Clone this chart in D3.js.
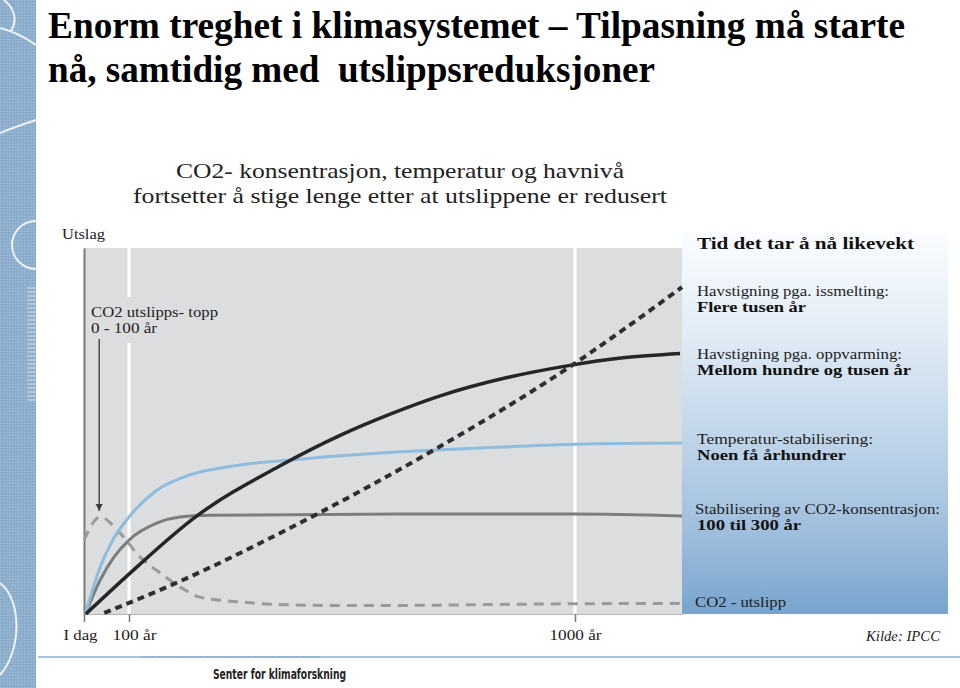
<!DOCTYPE html>
<html><head><meta charset="utf-8">
<script src="https://cdn.jsdelivr.net/npm/d3@7"></script>
<style>body{margin:0;background:#fff}svg{display:block}</style>
</head><body>
<svg id="c" width="960" height="688"></svg>
<script>
// ---- data ----
const xTickValues = [0, 100, 1000];
const xTickLabels = ["I dag", "100 år", "1000 år"];
const xDomainEnd = 1216;

const emissionYears  = [0, 36, 80, 122, 163, 203, 243, 324, 425, 566, 1000, 1216];
const emissionValues = [20.2, 26.5, 22.1, 15.6, 11.2, 7.4, 4.6, 3.3, 2.5, 2.3, 2.8, 2.9];

const co2Years  = [3, 36, 67, 100, 157, 203, 263, 647, 1000, 1216];
const co2Values = [0, 9.3, 15.6, 20.2, 24.9, 26.5, 27.0, 27.3, 27.3, 26.8];

const tempYears  = [3, 36, 64, 100, 157, 223, 324, 445, 647, 849, 1000, 1216];
const tempValues = [0, 12.8, 20.2, 26.5, 33.9, 38.0, 40.7, 42.3, 44.3, 45.6, 46.4, 46.7];

const thermalYears  = [4, 100, 237, 405, 526, 627, 728, 863, 984, 1097, 1212];
const thermalValues = [0, 10.9, 26.8, 40.5, 48.8, 54.6, 59.6, 64.6, 67.8, 70.0, 71.2];

const iceYears  = [45, 177, 475, 697, 980, 1216];
const iceValues = [0.3, 7.4, 27.0, 43.4, 66.7, 89.3];

const titleLines = ["Enorm treghet i klimasystemet – Tilpasning må starte", "nå, samtidig med  utslippsreduksjoner"];
const subtitleLines = ["CO2- konsentrasjon, temperatur og havnivå", "fortsetter å stige lenge etter at utslippene er redusert"];
const panelTitle = "Tid det tar å nå likevekt";
const panelLabels = ["Havstigning pga. issmelting:", "Havstigning pga. oppvarming:", "Temperatur-stabilisering:", "Stabilisering av CO2-konsentrasjon:", "CO2 - utslipp"];
const panelValues = ["Flere tusen år", "Mellom hundre og tusen år", "Noen få århundrer", "100 til 300 år", ""];
const annotationLines = ["CO2 utslipps- topp", "0 - 100 år"];
const yAxisLabel = "Utslag";
const sourceText = "Kilde: IPCC";
const footerText = "Senter for klimaforskning";

// ---- drawing ----
const svg = d3.select("#c");
const serif = "'Liberation Serif', 'Times New Roman', serif";
const tnr = "'Liberation Serif', 'Times New Roman', serif";

const x = d3.scaleLinear().domain([0, 100, 1000, xDomainEnd]).range([84, 129, 575, 682]);
const y = d3.scaleLinear().domain([0, 100]).range([614, 248]);

function txt(g, px, py, s, o) {
  const t = g.append("text").attr("x", px).attr("y", py).text(s)
    .attr("font-family", o.family || serif)
    .attr("font-size", o.size || 14)
    .attr("font-weight", o.weight || "normal")
    .attr("font-style", o.style || "normal")
    .attr("fill", o.fill || "#222")
    .style("white-space", "pre");
  if (o.len) t.attr("textLength", o.len).attr("lengthAdjust", "spacingAndGlyphs");
  if (o.anchor) t.attr("text-anchor", o.anchor);
  return t;
}

// left decorative bar
const defs = svg.append("defs");
const pat = defs.append("pattern").attr("id", "tex").attr("width", 3).attr("height", 3).attr("patternUnits", "userSpaceOnUse");
pat.append("rect").attr("width", 3).attr("height", 3).attr("fill", "#8eafcd");
pat.append("rect").attr("width", 1).attr("height", 1).attr("fill", "#a3bfd8");
pat.append("rect").attr("x", 2).attr("y", 1).attr("width", 1).attr("height", 1).attr("fill", "#7fa2c3");
svg.append("rect").attr("x", 0).attr("y", 0).attr("width", 36).attr("height", 688).attr("fill", "url(#tex)");
const deco = svg.append("g").attr("fill", "none").attr("stroke", "#fff").attr("stroke-width", 2).attr("opacity", 0.85);
deco.append("path").attr("d", "M4,0 C14,8 18,20 11,31");
deco.append("path").attr("d", "M0,28 C12,31 26,38 36,45");
deco.append("path").attr("d", "M0,133 C12,128 24,124 36,120");
deco.append("path").attr("d", "M36,221 A24,24 0 0 0 36,269");
deco.append("path").attr("d", "M0,583 C22,600 22,650 0,675");
for (let yy = 288; yy <= 400; yy += 4) {
  svg.append("line").attr("x1", 27).attr("x2", 36).attr("y1", yy).attr("y2", yy)
    .attr("stroke", "#fff").attr("stroke-width", 1).attr("opacity", 0.6);
}

// title
txt(svg, 48, 38, titleLines[0], {family: tnr, size: 38, weight: "bold", fill: "#000", len: 857});
txt(svg, 48, 82, titleLines[1], {family: tnr, size: 38, weight: "bold", fill: "#000", len: 607});

// subtitle
txt(svg, 176, 178, subtitleLines[0], {size: 22, len: 448});
txt(svg, 133, 203, subtitleLines[1], {size: 22, len: 534});

// right panel gradient
const grad = defs.append("linearGradient").attr("id", "pg").attr("x1", 0).attr("y1", 0).attr("x2", 0).attr("y2", 1);
grad.append("stop").attr("offset", 0).attr("stop-color", "#fbfdff");
grad.append("stop").attr("offset", 0.25).attr("stop-color", "#e3edf6");
grad.append("stop").attr("offset", 0.55).attr("stop-color", "#bed4e9");
grad.append("stop").attr("offset", 0.8).attr("stop-color", "#9dbddc");
grad.append("stop").attr("offset", 1).attr("stop-color", "#77a4cd");
svg.append("rect").attr("x", x(xDomainEnd)).attr("y", 232).attr("width", 948 - x(xDomainEnd)).attr("height", y(0) - 232).attr("fill", "url(#pg)");

// plot background
svg.append("rect").attr("x", x(0)).attr("y", y(100)).attr("width", x(xDomainEnd) - x(0)).attr("height", y(0) - y(100)).attr("fill", "#dcdddf");

// white reference lines
svg.append("line").attr("x1", x(100)).attr("x2", x(100)).attr("y1", y(100)).attr("y2", 297).attr("stroke", "#fff").attr("stroke-width", 3);
svg.append("line").attr("x1", x(100)).attr("x2", x(100)).attr("y1", 343).attr("y2", y(0)).attr("stroke", "#fff").attr("stroke-width", 3);
svg.append("line").attr("x1", x(1000)).attr("x2", x(1000)).attr("y1", y(100)).attr("y2", y(0)).attr("stroke", "#fff").attr("stroke-width", 3);

// axes
const xAxis = svg.append("g").attr("transform", `translate(0,${y(0)})`)
  .call(d3.axisBottom(x).tickValues(xTickValues).tickFormat((d, i) => xTickLabels[i]).tickSize(8).tickSizeOuter(0));
xAxis.select(".domain").attr("stroke", "#b4b4b4").attr("stroke-width", 1);
xAxis.selectAll(".tick line").attr("stroke", "#777").attr("stroke-width", 1.5);
xAxis.selectAll(".tick text").attr("font-family", serif).attr("font-size", 14.5).attr("fill", "#222")
  .attr("y", 16).attr("dx", (d, i) => [-4, 5, 0][i])
  .attr("textLength", (d, i) => [34, 44, 52][i]).attr("lengthAdjust", "spacingAndGlyphs");

const yAxis = svg.append("g").attr("transform", `translate(${x(0)},0)`)
  .call(d3.axisLeft(y).tickValues([]).tickSizeOuter(0));
yAxis.select(".domain").attr("stroke", "#7a7a7a").attr("stroke-width", 2);

txt(svg, 62, 239, yAxisLabel, {size: 14, len: 43});

// lines
const zip = (a, b) => a.map((v, i) => [v, b[i]]);
const line = d3.line().x(d => x(d[0])).y(d => y(d[1])).curve(d3.curveMonotoneX);
const plot = svg.append("g").attr("fill", "none").attr("stroke-linecap", "butt");

plot.append("path").datum(zip(emissionYears, emissionValues)).attr("d", line)
  .attr("stroke", "#9a9a9a").attr("stroke-width", 3).attr("stroke-dasharray", "10 7");
plot.append("path").datum(zip(co2Years, co2Values)).attr("d", line)
  .attr("stroke", "#7d7d7d").attr("stroke-width", 3);
plot.append("path").datum(zip(tempYears, tempValues)).attr("d", line)
  .attr("stroke", "#8dbcdd").attr("stroke-width", 3);
plot.append("path").datum(zip(thermalYears, thermalValues)).attr("d", line)
  .attr("stroke", "#262626").attr("stroke-width", 3.5);
plot.append("path").datum(zip(iceYears, iceValues)).attr("d", line)
  .attr("stroke", "#2f2f2f").attr("stroke-width", 4).attr("stroke-dasharray", "7 5");

// annotation
txt(svg, 91, 317, annotationLines[0], {size: 14, len: 127});
txt(svg, 91, 333, annotationLines[1], {size: 14, len: 66});
defs.append("marker").attr("id", "arr").attr("viewBox", "0 0 10 10").attr("refX", 10).attr("refY", 5)
  .attr("markerWidth", 7).attr("markerHeight", 9).attr("markerUnits", "userSpaceOnUse").attr("orient", "auto")
  .append("path").attr("d", "M0,0 L10,5 L0,10 z").attr("fill", "#3a3a3a");
const ax = x(emissionYears[1]) - 1;
svg.append("line").attr("x1", ax).attr("x2", ax).attr("y1", 339).attr("y2", y(emissionValues[1]) - 6)
  .attr("stroke", "#3a3a3a").attr("stroke-width", 1.3).attr("marker-end", "url(#arr)");

// panel texts
txt(svg, 697, 249, panelTitle, {size: 17, weight: "bold", fill: "#111", len: 217});
const labelY = [296, 359, 444, 514, 607];
const labelLen = [192, 205, 176, 245, 91];
const labelX = [697, 697, 697, 695, 695];
const valueLen = [109, 214, 149, 104, 0];
panelLabels.forEach((s, i) => {
  txt(svg, labelX[i], labelY[i], s, {size: 14, fill: "#1d1d1d", len: labelLen[i]});
  if (panelValues[i]) txt(svg, 697, labelY[i] + 16, panelValues[i], {size: 14, weight: "bold", fill: "#111", len: valueLen[i]});
});
txt(svg, 866, 641, sourceText, {size: 14, style: "italic", fill: "#222", len: 74});

// bottom rule and footer
svg.append("line").attr("x1", 38).attr("x2", 960).attr("y1", 657).attr("y2", 657).attr("stroke", "#a9c2da").attr("stroke-width", 2);
svg.append("line").attr("x1", 140).attr("x2", 320).attr("y1", 657).attr("y2", 657).attr("stroke", "#8fafcf").attr("stroke-width", 2).attr("stroke-dasharray", "2 1");
txt(svg, 213, 679, footerText, {family: "'DejaVu Sans Condensed', 'DejaVu Sans', sans-serif", size: 14, weight: "bold", fill: "#222", len: 133});
</script>
</body></html>
